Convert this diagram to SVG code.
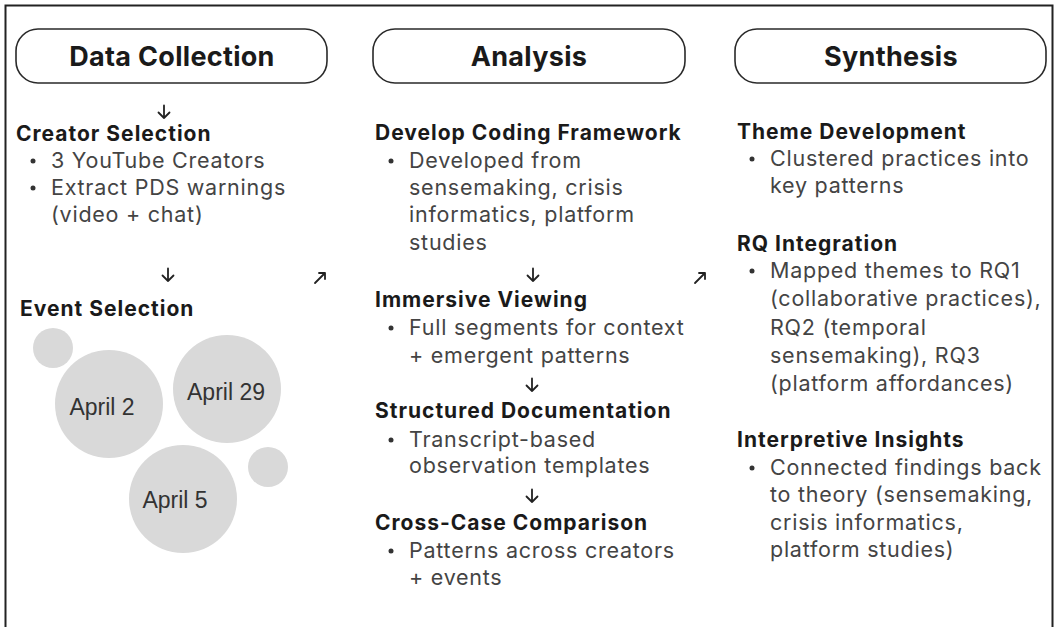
<svg xmlns="http://www.w3.org/2000/svg" width="1055" height="627" viewBox="0 0 1055 627">
<style>
.pill{fill:#fff;stroke:#2a2a2a;stroke-width:1.6}
.title{font-family:Inter,"Liberation Sans",sans-serif;font-weight:700;font-size:27px;letter-spacing:0.3px;fill:#1a1a1a;text-anchor:middle}
.h{font-family:Inter,"Liberation Sans",sans-serif;font-weight:700;font-size:21px;letter-spacing:1px;fill:#1a1a1a}
.b{font-family:Inter,"Liberation Sans",sans-serif;font-size:21.5px;letter-spacing:0.75px;fill:#444}
.dot{fill:#333}
.arr{fill:none;stroke:#222;stroke-width:1.8;stroke-linecap:round;stroke-linejoin:round}
.ev{fill:#d9d9d9}
.evt{font-family:"Liberation Sans",Arial,sans-serif;font-size:23px;fill:#333;text-anchor:middle}
</style>
<defs>
<path id="down" d="M0,-6.5 V6 M-5.5,0.5 L0,6 L5.5,0.5"/>
<path id="ne" d="M-5,5 L5,-5 M-1,-5 H5 V1"/>
</defs>
<rect width="1055" height="627" fill="#fff"/>
<path d="M5.5,627 V5.5 H1052.5 V627" fill="none" stroke="#222" stroke-width="2"/>

<g id="col-data-collection">
<rect class="pill" x="16" y="29" width="311" height="54" rx="22"/>
<text class="title" x="172" y="66">Data Collection</text>
</g>
<g id="col-analysis">
<rect class="pill" x="373" y="29" width="312" height="54" rx="22"/>
<text class="title" x="529" y="66">Analysis</text>
</g>
<g id="col-synthesis">
<rect class="pill" x="735" y="29" width="311" height="54" rx="22"/>
<text class="title" x="891" y="66">Synthesis</text>
</g>

<g id="creator-selection">
<text class="h" x="16" y="141">Creator Selection</text>
<circle class="dot" cx="33" cy="161" r="2.5"/>
<text class="b" x="51" y="168">3 YouTube Creators</text>
<circle class="dot" cx="33" cy="188" r="2.5"/>
<text class="b" x="51" y="195">Extract PDS warnings</text>
<text class="b" x="51" y="222">(video + chat)</text>
</g>

<g id="event-selection">
<text class="h" x="20" y="316">Event Selection</text>
<circle class="ev" cx="53" cy="348" r="20"/>
<circle class="ev" cx="109" cy="404" r="54"/>
<circle class="ev" cx="227" cy="389" r="54"/>
<circle class="ev" cx="183" cy="499" r="54"/>
<circle class="ev" cx="268" cy="467" r="20"/>
<text class="evt" x="102" y="415">April 2</text>
<text class="evt" x="226" y="400">April 29</text>
<text class="evt" x="175" y="508">April 5</text>
</g>

<g id="develop-coding-framework">
<text class="h" x="375" y="140">Develop Coding Framework</text>
<circle class="dot" cx="391" cy="161" r="2.5"/>
<text class="b" x="409" y="168">Developed from</text>
<text class="b" x="409" y="195">sensemaking, crisis</text>
<text class="b" x="409" y="222">informatics, platform</text>
<text class="b" x="409" y="250">studies</text>
</g>
<g id="immersive-viewing">
<text class="h" x="375" y="307">Immersive Viewing</text>
<circle class="dot" cx="391" cy="328" r="2.5"/>
<text class="b" x="409" y="335">Full segments for context</text>
<text class="b" x="409" y="363">+ emergent patterns</text>
</g>
<g id="structured-documentation">
<text class="h" x="375" y="418">Structured Documentation</text>
<circle class="dot" cx="391" cy="440" r="2.5"/>
<text class="b" x="409" y="447">Transcript-based</text>
<text class="b" x="409" y="473">observation templates</text>
</g>
<g id="cross-case-comparison">
<text class="h" x="375" y="530">Cross-Case Comparison</text>
<circle class="dot" cx="391" cy="551" r="2.5"/>
<text class="b" x="409" y="558">Patterns across creators</text>
<text class="b" x="409" y="585">+ events</text>
</g>

<g id="theme-development">
<text class="h" x="737" y="139">Theme Development</text>
<circle class="dot" cx="752" cy="159" r="2.5"/>
<text class="b" x="770" y="166">Clustered practices into</text>
<text class="b" x="770" y="193">key patterns</text>
</g>
<g id="rq-integration">
<text class="h" x="737" y="251">RQ Integration</text>
<circle class="dot" cx="752" cy="271" r="2.5"/>
<text class="b" x="770" y="278">Mapped themes to RQ1</text>
<text class="b" x="770" y="306">(collaborative practices),</text>
<text class="b" x="770" y="335">RQ2 (temporal</text>
<text class="b" x="770" y="363">sensemaking), RQ3</text>
<text class="b" x="770" y="391">(platform affordances)</text>
</g>
<g id="interpretive-insights">
<text class="h" x="737" y="447">Interpretive Insights</text>
<circle class="dot" cx="752" cy="468" r="2.5"/>
<text class="b" x="770" y="475">Connected findings back</text>
<text class="b" x="770" y="502">to theory (sensemaking,</text>
<text class="b" x="770" y="530">crisis informatics,</text>
<text class="b" x="770" y="557">platform studies)</text>
</g>

<g id="connectors" class="arr">
<use href="#down" x="164" y="112"/>
<use href="#down" x="168" y="275"/>
<use href="#ne" x="320" y="278"/>
<use href="#down" x="533" y="275"/>
<use href="#down" x="532" y="385"/>
<use href="#down" x="532" y="496"/>
<use href="#ne" x="700" y="278"/>
</g>
</svg>
